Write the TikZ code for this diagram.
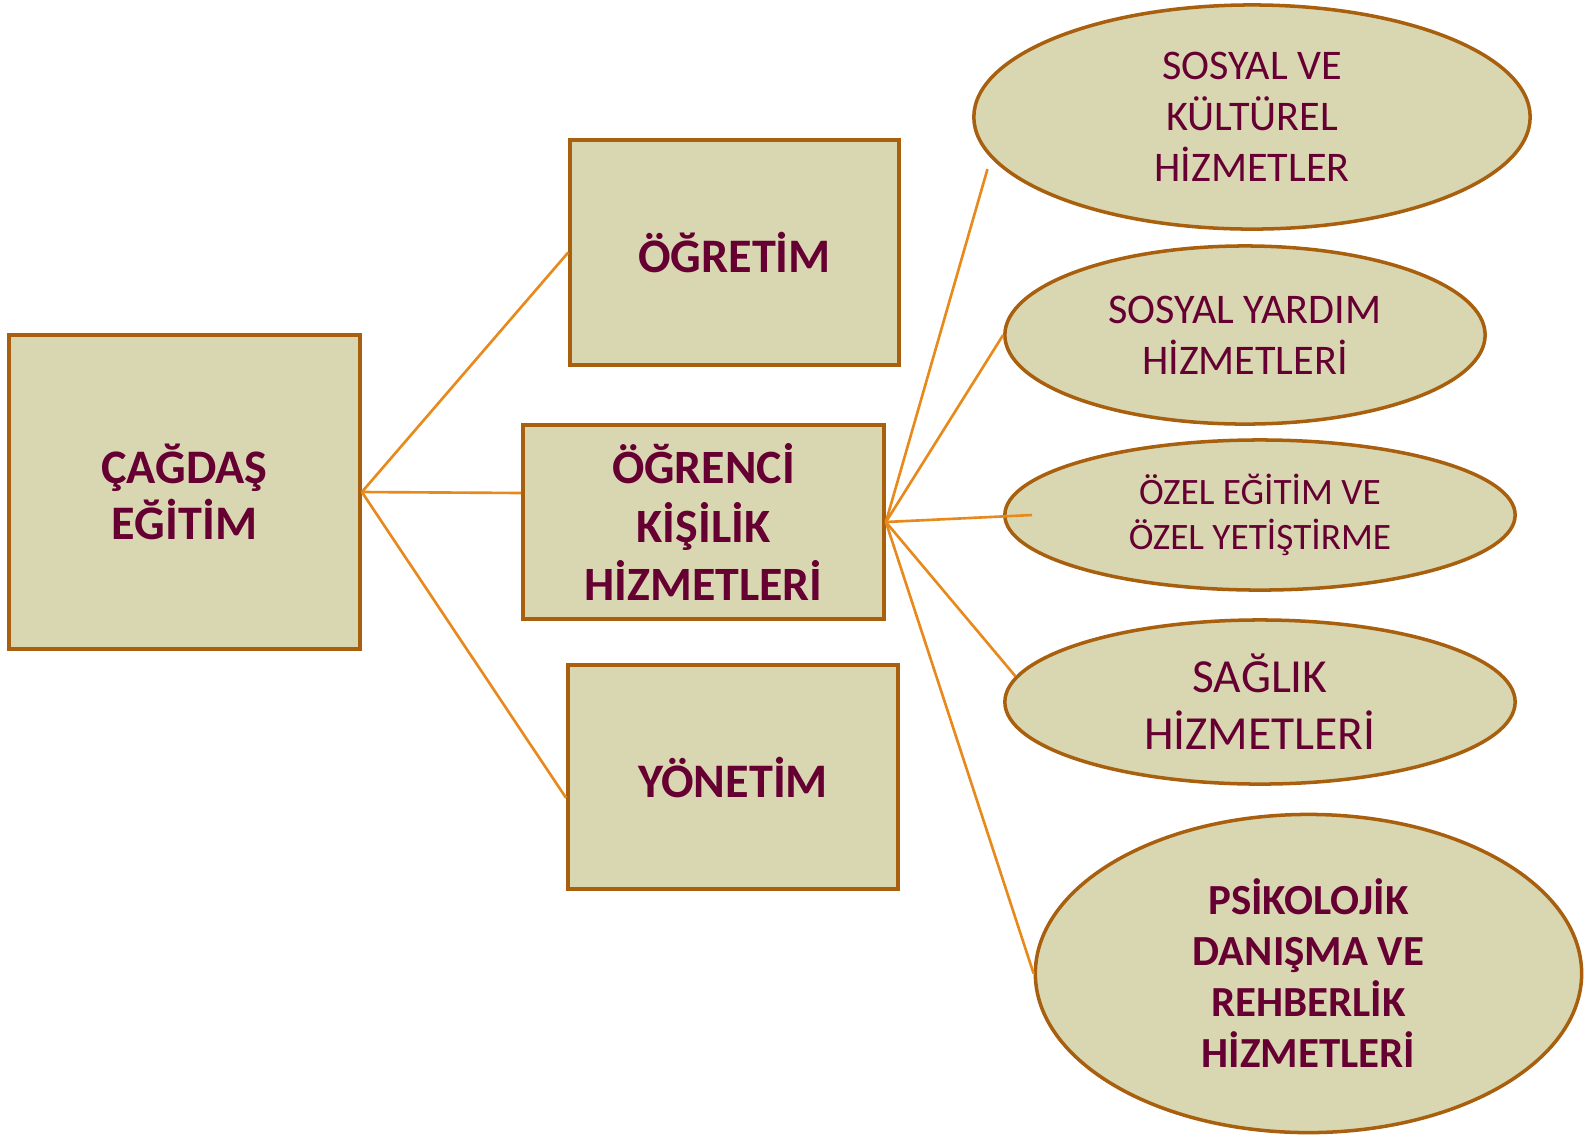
\documentclass[tikz,border=0pt]{standalone}
\usepackage{xcolor}
\usepackage{fontspec}
\setmainfont{Carlito}
\definecolor{mfill}{HTML}{D9D7B1}
\definecolor{mbrown}{HTML}{A8600F}
\definecolor{morange}{HTML}{E8891C}
\definecolor{mwine}{HTML}{660033}
\usepackage{tikz}
\usetikzlibrary{shapes.geometric}

\begin{document}
\begin{tikzpicture}[x=0.01cm, y=-0.01cm,
    box/.style={draw=mbrown, line width=1pt, fill=mfill, text=mwine,
                align=center, inner sep=0pt},
    oval/.style={ellipse, draw=mbrown, line width=1pt, fill=mfill, text=mwine,
                align=center, inner sep=0pt},
    link/.style={morange, line width=0.75pt}]
            % Page size
            \useasboundingbox (0,0) rectangle (1590,1135);

            % Left column: main box
            \node[box, minimum width=3.51cm, minimum height=3.14cm,
                  font=\bfseries\fontsize{13.7}{15.9}\selectfont]
                  (cagdas) at (184.5,492) {ÇAĞDAŞ\\EĞİTİM};

            % Middle column
            \node[box, minimum width=3.29cm, minimum height=2.25cm,
                  font=\bfseries\fontsize{13.7}{15.9}\selectfont]
                  (ogretim) at (734.5,252.5) {ÖĞRETİM};
            \node[box, minimum width=3.61cm, minimum height=1.94cm,
                  font=\bfseries\fontsize{13.6}{16.5}\selectfont]
                  (ogrenci) at (703.5,522) {ÖĞRENCİ\\KİŞİLİK\\HİZMETLERİ};
            \node[box, minimum width=3.30cm, minimum height=2.24cm,
                  font=\bfseries\fontsize{13.7}{15.9}\selectfont]
                  (yonetim) at (733,777) {YÖNETİM};

            % Right column: services
            \node[oval, minimum width=5.56cm, minimum height=2.24cm,
                  font=\fontsize{12}{14.5}\selectfont]
                  (sosyal) at (1252,117) {SOSYAL VE\\KÜLTÜREL\\HİZMETLER};
            \node[oval, minimum width=4.80cm, minimum height=1.78cm,
                  font=\fontsize{12}{14.5}\selectfont]
                  (yardim) at (1245,335) {SOSYAL YARDIM\\HİZMETLERİ};
            \node[oval, minimum width=5.10cm, minimum height=1.50cm,
                  font=\fontsize{10.6}{13}\selectfont]
                  (ozel) at (1260,515) {ÖZEL EĞİTİM VE\\ÖZEL YETİŞTİRME};
            \node[oval, minimum width=5.10cm, minimum height=1.64cm,
                  font=\fontsize{13.5}{16.2}\selectfont]
                  (saglik) at (1260,702) {SAĞLIK\\HİZMETLERİ};
            \node[oval, minimum width=5.46cm, minimum height=3.18cm,
                  font=\bfseries\fontsize{12.2}{14.5}\selectfont]
                  (rehber) at (1308.5,973.5) {PSİKOLOJİK\\DANIŞMA VE\\REHBERLİK\\HİZMETLERİ};

            % Links from the main box
            \draw[link] (cagdas.east) -- (ogretim.west);
            \draw[link] (cagdas.east) -- ([yshift=0.29cm]ogrenci.west);
            \draw[link] (cagdas.east) -- ([yshift=-0.21cm]yonetim.west);

            % Links to the services
            \draw[link] (ogrenci.east) -- ([xshift=-0.12cm,yshift=-0.03cm]sosyal.191);
            \draw[link] (ogrenci.east) -- (yardim.west);
            \draw[link] (ogrenci.east) -- ([xshift=0.29cm]ozel.west);
            \draw[link] (ogrenci.east) -- (saglik.174);
            \draw[link] (ogrenci.east) -- (rehber.west);
          \end{tikzpicture}
\end{document}
